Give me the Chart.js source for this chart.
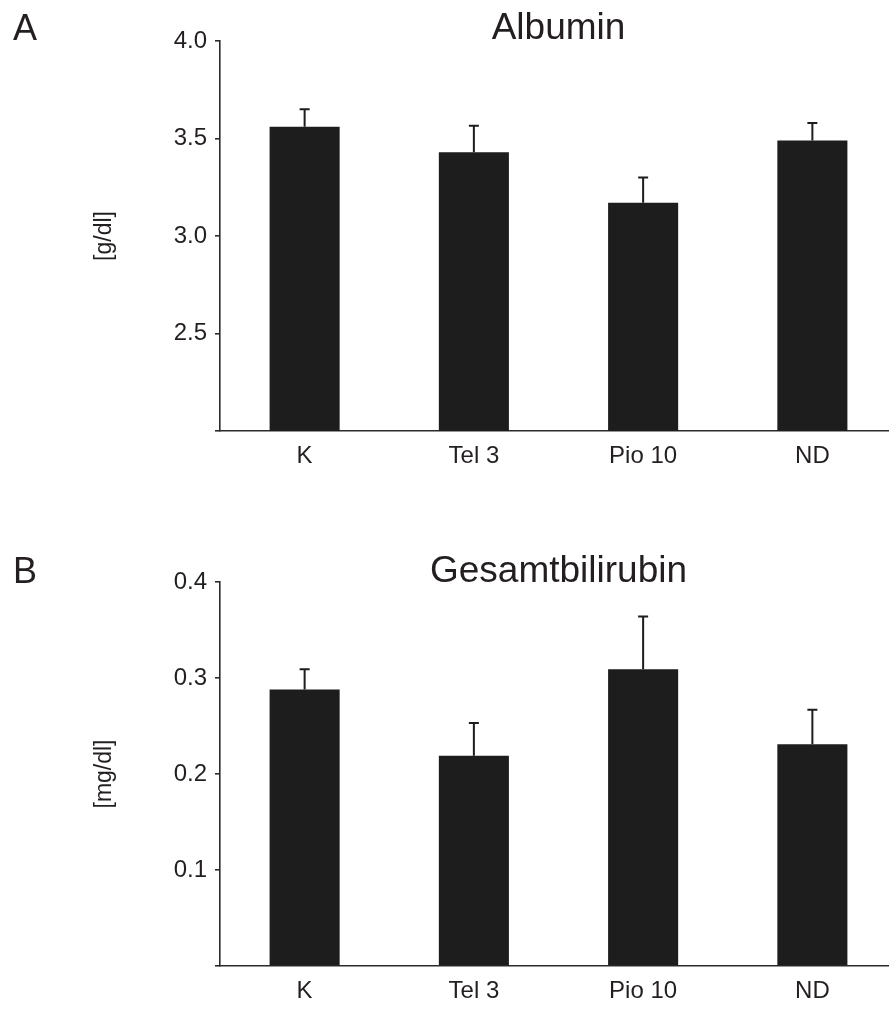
<!DOCTYPE html>
<html>
<head>
<meta charset="utf-8">
<script src="https://cdn.jsdelivr.net/npm/chart.js@4.4.1/dist/chart.umd.min.js"></script>
<style>
    html, body { margin: 0; padding: 0; background: #fff; overflow: hidden; }
    #wrap { position: relative; width: 889px; height: 1009px; overflow: hidden; }
    canvas { position: absolute; left: 0; }
    #chartA { top: 0; }
    #chartB { top: 541px; }
</style>
</head>
<body>
<div id="wrap">
    <canvas id="chartA" width="897" height="490"></canvas>
    <canvas id="chartB" width="897" height="468"></canvas>
</div>
<script>
const categories = ['K', 'Tel 3', 'Pio 10', 'ND'];

// Albumin [g/dl]
const albuminMeans = [3.56, 3.43, 3.17, 3.49];
const albuminErrors = [0.09, 0.135, 0.13, 0.09];
const albuminTicks = [2.0, 2.5, 3.0, 3.5, 4.0];

// Gesamtbilirubin [mg/dl]
const bilirubinMeans = [0.288, 0.219, 0.309, 0.231];
const bilirubinErrors = [0.021, 0.034, 0.055, 0.036];
const bilirubinTicks = [0.0, 0.1, 0.2, 0.3, 0.4];

const FONT = "'Liberation Sans', Arial, Helvetica, sans-serif";
const INK = '#231f20';
const BAR = '#1d1d1d';
const AXIS = '#2b2b2b';

// error bars (upper whisker only) + panel title and letter
const panelPlugin = {
    id: 'panelText',
    afterDatasetsDraw(chart, args, opts) {
        const ctx = chart.ctx;
        const y = chart.scales.y;
        const meta = chart.getDatasetMeta(0);
        const errs = opts.errors || [];
        ctx.save();
        ctx.strokeStyle = BAR;
        ctx.lineWidth = 2;
        meta.data.forEach((bar, i) => {
            const v = chart.data.datasets[0].data[i];
            const top = y.getPixelForValue(v + errs[i]);
            ctx.beginPath();
            ctx.moveTo(bar.x, bar.y);
            ctx.lineTo(bar.x, top);
            ctx.moveTo(bar.x - 5, top);
            ctx.lineTo(bar.x + 5, top);
            ctx.stroke();
        });
        ctx.restore();
    },
    afterDraw(chart, args, opts) {
        const ctx = chart.ctx;
        const area = chart.chartArea;
        const ty = area.top - opts.titleOffset;
        ctx.save();
        ctx.fillStyle = INK;
        ctx.textBaseline = 'middle';
        ctx.textAlign = 'center';
        ctx.font = '37px ' + FONT;
        ctx.fillText(opts.title, (area.left + area.right) / 2, ty);
        ctx.textAlign = 'left';
        ctx.font = '36px ' + FONT;
        ctx.fillText(opts.letter, 13, ty + 1);
        ctx.restore();
    }
};

function makePanel(id, cfg) {
    const el = document.getElementById(id);
    return new Chart(el, {
        type: 'bar',
        data: {
            labels: categories,
            datasets: [{
                data: cfg.means,
                backgroundColor: BAR,
                borderWidth: 0,
                barPercentage: 0.414,
                categoryPercentage: 1.0
            }]
        },
        options: {
            responsive: false,
            animation: false,
            layout: { padding: { top: 41, left: 91, right: 0, bottom: 0 } },
            plugins: {
                legend: { display: false },
                tooltip: { enabled: false },
                panelText: {
                    title: cfg.title,
                    letter: cfg.letter,
                    errors: cfg.errors,
                    titleOffset: cfg.titleOffset
                }
            },
            scales: {
                x: {
                    grid: { display: false, drawTicks: false },
                    border: { display: true, color: AXIS, width: 1.6 },
                    ticks: { color: INK, font: { family: FONT, size: 24 }, padding: 11 },
                    afterFit(s) { s.height = cfg.xHeight; }
                },
                y: {
                    min: cfg.ticks[0],
                    max: cfg.ticks[cfg.ticks.length - 1],
                    afterBuildTicks(s) { s.ticks = cfg.ticks.map(v => ({ value: v })); },
                    grid: { drawOnChartArea: false, drawTicks: true, tickLength: 5, color: AXIS, lineWidth: 1.6 },
                    border: { display: true, color: AXIS, width: 1.6 },
                    ticks: {
                        color: INK,
                        font: { family: FONT, size: 24 },
                        padding: 8,
                        callback: v => (v === cfg.ticks[0] ? '' : v.toFixed(1))
                    },
                    title: {
                        display: true,
                        text: cfg.unit,
                        color: INK,
                        font: { family: FONT, size: 23 },
                        padding: 0
                    },
                    afterFit(s) { s.width = 129; }
                }
            }
        },
        plugins: [panelPlugin]
    });
}

makePanel('chartA', {
    title: 'Albumin', letter: 'A', unit: '[g/dl]',
    means: albuminMeans, errors: albuminErrors, ticks: albuminTicks,
    xHeight: 59, titleOffset: 12
});

makePanel('chartB', {
    title: 'Gesamtbilirubin', letter: 'B', unit: '[mg/dl]',
    means: bilirubinMeans, errors: bilirubinErrors, ticks: bilirubinTicks,
    xHeight: 43, titleOffset: 10
});
</script>
</body>
</html>
